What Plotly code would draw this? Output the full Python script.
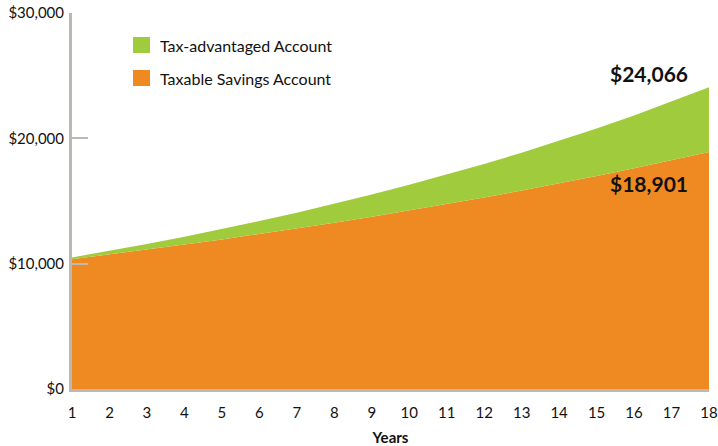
import plotly.graph_objects as go

years = list(range(1, 19))
tax_advantaged = [10500, 11025, 11576, 12155, 12763, 13401, 14071, 14775, 15513,
                  16289, 17103, 17959, 18856, 19799, 20789, 21829, 22920, 24066]
taxable = [10360, 10733, 11119, 11520, 11935, 12364, 12809, 13270, 13748,
           14243, 14756, 15287, 15837, 16407, 16998, 17610, 18244, 18901]
y_ticks = [0, 10000, 20000, 30000]
y_labels = ["$0", "$10,000", "$20,000", "$30,000"]
names = ["Tax-advantaged Account", "Taxable Savings Account"]

GREEN = "#A0CB3C"
ORANGE = "#EF8A23"
AXIS = "#BCB8B4"
FONT = "Lato"

fig = go.Figure()
fig.add_trace(go.Scatter(x=years, y=taxable, mode="lines", line=dict(width=0, color=ORANGE),
                         fill="tozeroy", fillcolor=ORANGE, name=names[1], showlegend=False,
                         hoverinfo="skip"))
fig.add_trace(go.Scatter(x=years, y=tax_advantaged, mode="lines", line=dict(width=0, color=GREEN),
                         fill="tonexty", fillcolor=GREEN, name=names[0], showlegend=False,
                         hoverinfo="skip"))

# custom legend (plot area: 637 x 376 px, top at y=13, left at x=72)
PW, PH, PL, PT = 637, 376, 72, 13
for i, (nm, col) in enumerate([(names[0], GREEN), (names[1], ORANGE)]):
    y0 = 37 + i * 33
    fig.add_shape(type="rect", xref="paper", yref="paper",
                  x0=(133 - PL) / PW, x1=(150 - PL) / PW,
                  y0=1 - (y0 + 16 - PT) / PH, y1=1 - (y0 - PT) / PH,
                  fillcolor=col, line=dict(width=0))
    fig.add_annotation(xref="paper", yref="paper", x=(158 - PL) / PW,
                       y=1 - (y0 + 8 - PT) / PH, text=nm, showarrow=False,
                       xanchor="left", yanchor="middle",
                       font=dict(family=FONT, size=16, color="#111"))

fig.add_annotation(x=years[-1], y=tax_advantaged[-1], text="<b>$24,066</b>", showarrow=False,
                   xanchor="right", yanchor="bottom", xshift=-19, yshift=-1,
                   font=dict(family=FONT, size=21, color="#111"))
fig.add_annotation(x=years[-1], y=taxable[-1], text="<b>$18,901</b>", showarrow=False,
                   xanchor="right", yanchor="top", xshift=-19, yshift=-17,
                   font=dict(family=FONT, size=21, color="#111"))

fig.update_layout(
    width=718, height=446, margin=dict(l=PL, r=718 - PL - PW, t=PT, b=446 - PT - PH, autoexpand=False),
    paper_bgcolor="white", plot_bgcolor="white",
    font=dict(family=FONT, size=15, color="#111"),
    xaxis=dict(range=[1, 18], tickvals=years, showgrid=False, zeroline=False,
               showline=True, linecolor=AXIS, linewidth=3, ticks="",
               automargin=False, ticklabeloverflow="allow", ticklabelstandoff=8,
               tickfont=dict(size=15, color="#111"),
               title=dict(text="<b>Years</b>", font=dict(size=15), standoff=14)),
    yaxis=dict(range=[0, 30000], tickvals=y_ticks, ticktext=y_labels, showgrid=False,
               zeroline=False, showline=True, linecolor=AXIS, linewidth=3,
               automargin=False, ticklabeloverflow="allow", ticklabelstandoff=2,
               ticks="inside", ticklen=16, tickwidth=2, tickcolor=AXIS,
               tickfont=dict(size=15, color="#111"), layer="above traces"),
)

fig.write_html("out.html", post_script="document.body.style.margin='0';",
               config={"displayModeBar": False})
